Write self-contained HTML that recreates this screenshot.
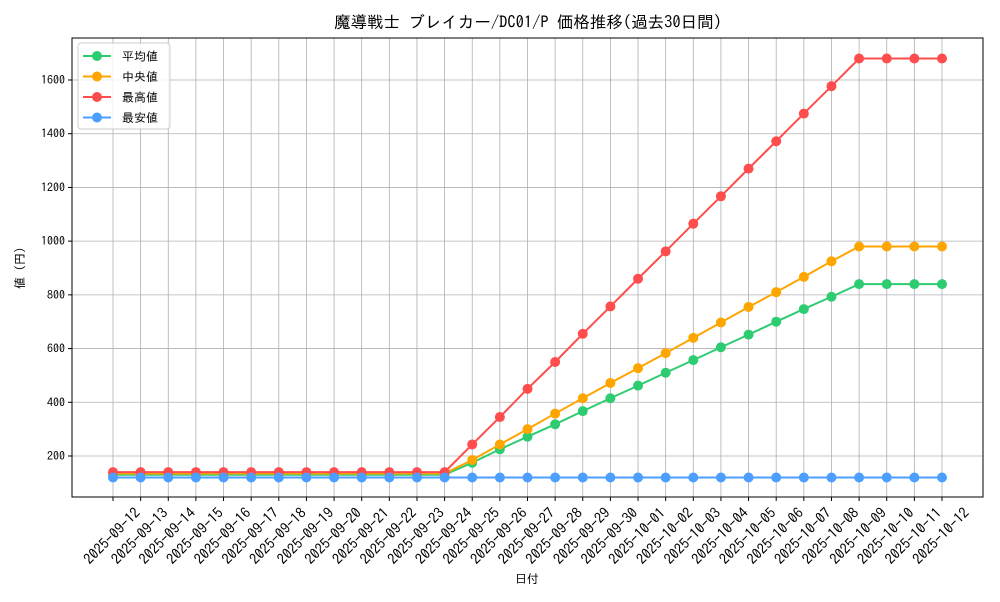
<!DOCTYPE html>
<html><head><meta charset="utf-8">
<style>
body{margin:0;background:#fff;font-family:"IPAGothic","Liberation Sans",sans-serif;}
svg text{font-family:"IPAGothic","Noto Sans CJK JP",sans-serif;fill:#000;}
</style></head>
<body>
<svg id="chart" width="1000" height="600" xmlns="http://www.w3.org/2000/svg">
<rect width="1000" height="600" fill="#fff"/>
<text x="528" y="28" font-size="16.5" text-anchor="middle">魔導戦士 ブレイカー/DC01/P 価格推移(過去30日間)</text>
<g id="grid"></g>
<g id="series"></g>
<rect x="72" y="38" width="911" height="459" fill="none" stroke="#000" stroke-width="1"/>
<g id="axes"></g>
<text x="527" y="583" font-size="12" text-anchor="middle">日付</text>
<text transform="translate(24,268) rotate(-90)" font-size="12" text-anchor="middle">値 (円)</text>
<g id="legend"></g>
</svg>
<script>
const dates=["2025-09-12","2025-09-13","2025-09-14","2025-09-15","2025-09-16","2025-09-17","2025-09-18","2025-09-19","2025-09-20","2025-09-21","2025-09-22","2025-09-23","2025-09-24","2025-09-25","2025-09-26","2025-09-27","2025-09-28","2025-09-29","2025-09-30","2025-10-01","2025-10-02","2025-10-03","2025-10-04","2025-10-05","2025-10-06","2025-10-07","2025-10-08","2025-10-09","2025-10-10","2025-10-11","2025-10-12"];
const avgVals=[130,130,130,130,130,130,130,130,130,130,130,130,130,175,225,272,318,367,415,462,510,557,605,652,700,747,793,840,840,840,840];
const medVals=[135,135,135,135,135,135,135,135,135,135,135,135,135,185,243,300,358,415,472,527,583,640,697,755,810,867,925,980,980,980,980];
const maxVals=[140,140,140,140,140,140,140,140,140,140,140,140,140,243,345,450,550,655,757,860,962,1065,1167,1270,1372,1475,1577,1680,1680,1680,1680];
const minVals=[120,120,120,120,120,120,120,120,120,120,120,120,120,120,120,120,120,120,120,120,120,120,120,120,120,120,120,120,120,120,120];
const yTicks=[200,400,600,800,1000,1200,1400,1600];
const seriesNames=["平均値","中央値","最高値","最安値"];
const NS="http://www.w3.org/2000/svg";
const X0=113,X1=942;
function xs(i){return X0+(X1-X0)*i/(dates.length-1);}
function ys(v){return 456-(v-200)*(376/1400);}
function mk(t,a,p){const e=document.createElementNS(NS,t);for(const k in a)e.setAttribute(k,a[k]);p.appendChild(e);return e;}
const grid=document.getElementById('grid'),axes=document.getElementById('axes');
dates.forEach((d,i)=>{
  const x=xs(i);
  const g=mk('line',{x1:x,x2:x,y1:38,y2:497,stroke:'#b0b0b0','stroke-width':0.8},grid);
  
  
  mk('line',{x1:x,x2:x,y1:497,y2:501,stroke:'#000'},axes);
  const t=mk('text',{x:0,y:5,'font-size':14.5,'text-anchor':'middle',transform:`translate(${x-1},${536}) rotate(-45)`},axes);
  t.textContent=d;
  
  
});
yTicks.forEach(v=>{
  const y=ys(v);
  const g=mk('line',{x1:72,x2:983,y1:y,y2:y,stroke:'#b0b0b0','stroke-width':0.8},grid);
  
  
  mk('line',{x1:68,x2:72,y1:y,y2:y,stroke:'#000'},axes);
  const t=mk('text',{x:65,y:y+4,'font-size':12,'text-anchor':'end'},axes);
  t.textContent=v;
  
  
});
const sdata=[avgVals,medVals,maxVals,minVals];
const colors=["#2ecc71","#ffa500","#ff4d4d","#4d9fff"];
const sg=document.getElementById('series');
const snames=["series-average","series-median","series-max","series-min"];
sdata.forEach((vals,k)=>{
  const g=mk('g',{},sg);
  
  
  mk('polyline',{points:vals.map((v,i)=>xs(i)+','+ys(v)).join(' '),fill:'none',stroke:colors[k],'stroke-width':2},g);
  vals.forEach((v,i)=>{
    const c=mk('circle',{cx:xs(i),cy:ys(v),r:5,fill:colors[k]},g);
    
    
  });
});
const lg=document.getElementById('legend');
const box=mk('rect',{x:78,y:43,width:92,height:86,rx:3,fill:'#fff','fill-opacity':0.8,stroke:'#ccc'},lg);


seriesNames.forEach((n,k)=>{
  const y=56+k*20.5;
  const g=mk('g',{},lg);
  
  
  mk('line',{x1:83,x2:111,y1:y,y2:y,stroke:colors[k],'stroke-width':2},g);
  mk('circle',{cx:97,cy:y,r:5,fill:colors[k]},g);
  const t=mk('text',{x:122,y:y+4.5,'font-size':12},g);
  t.textContent=n;
});
</script>
</body></html>
